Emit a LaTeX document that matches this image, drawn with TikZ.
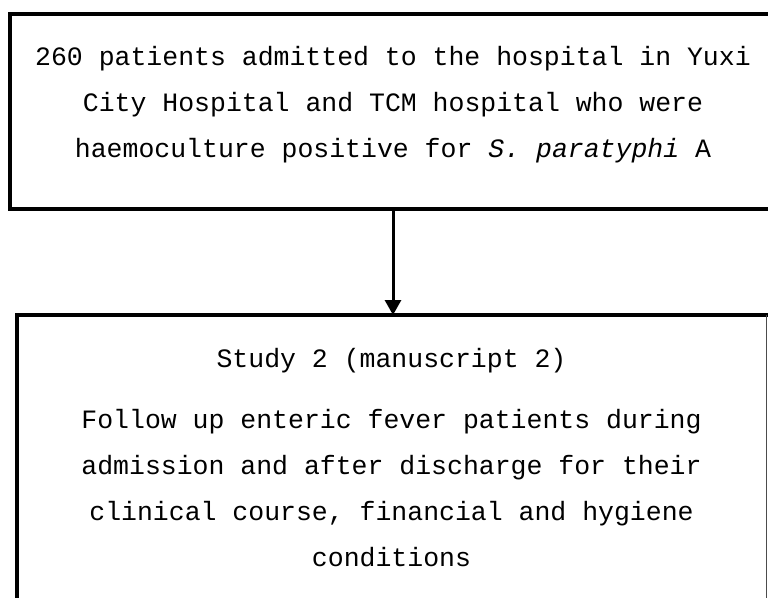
\documentclass[tikz,border=0pt]{standalone}
\usepackage{fontspec}
\setmonofont{Liberation Mono}
\usetikzlibrary{arrows.meta}
\tikzset{
  frame/.style={draw=none, minimum width=#1, inner sep=0pt, outer sep=0pt},
  thickedge/.style={line width=4pt, line cap=rect},
  thinedge/.style={line width=1pt, draw=black!70},
  txt/.style={anchor=base, inner sep=0pt, font=\fontsize{26.5}{30}\ttfamily},
  flow/.style={line width=3pt, -{Triangle[width=16pt,length=15pt]}}
}
\begin{document}
\begin{tikzpicture}[x=1pt,y=-1pt]
\useasboundingbox (0,0) rectangle (768,597);
\clip (0,0) rectangle (768,597);
% top box
\node[frame=766pt, minimum height=195pt] (top) at (393,111.5) {};
\draw[thickedge] (top.south west) rectangle (top.north east);
\node[txt] (t1) at (393,65) {260 patients admitted to the hospital in Yuxi};
\node[txt] (t2) at (393,111) {City Hospital and TCM hospital who were};
\node[txt] (t3) at (393,157) {haemoculture positive for \textit{S. paratyphi} A};
% bottom box
\node[frame=749pt, minimum height=300pt] (bot) at (391.5,465) {};
\draw[thickedge] (bot.south west) -- (bot.north west) -- (bot.north east);
\draw[thinedge] (bot.north east) -- (bot.south east);
\node[txt] (b1) at (391.5,367) {Study 2 (manuscript 2)};
\node[txt] (b2) at (391.5,428) {Follow up enteric fever patients during};
\node[txt] (b3) at (391.5,474) {admission and after discharge for their};
\node[txt] (b4) at (391.5,520) {clinical course, financial and hygiene};
\node[txt] (b5) at (391.5,566) {conditions};
% arrow
\draw[flow] (top.south) -- (top.south |- bot.north);
\end{tikzpicture}
\end{document}
